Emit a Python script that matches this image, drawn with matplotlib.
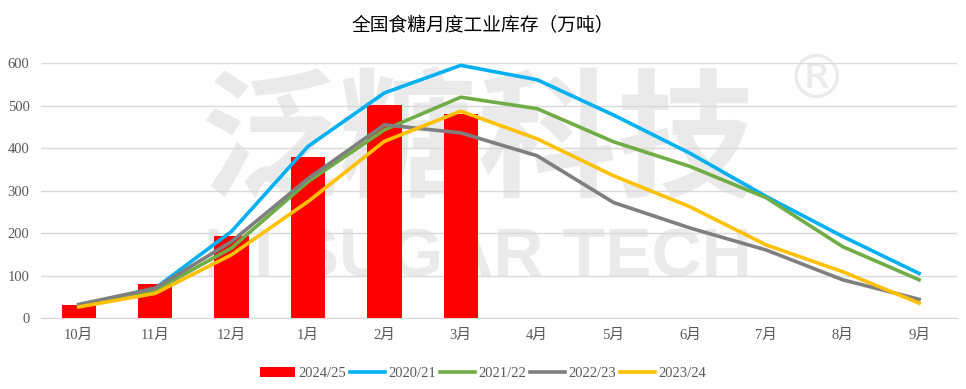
import matplotlib.pyplot as plt
import numpy as np

plt.rcParams['font.family'] = ['Liberation Serif', 'Noto Sans CJK SC', 'DejaVu Sans']

months = ['10月', '11月', '12月', '1月', '2月', '3月', '4月', '5月', '6月', '7月', '8月', '9月']
bar_2024_25 = [31, 79, 193, 379, 501, 480]
line_2020_21 = [30, 70, 204, 404, 530, 595, 561, 478, 388, 286, 192, 105]
line_2021_22 = [28, 65, 165, 321, 443, 520, 493, 415, 357, 283, 168, 90]
line_2022_23 = [32, 70, 180, 328, 455, 436, 382, 272, 212, 160, 90, 44]
line_2023_24 = [26, 58, 149, 274, 416, 487, 422, 335, 262, 172, 109, 35]
yticks = [0, 100, 200, 300, 400, 500, 600]

fig = plt.figure(figsize=(9.66, 3.89), dpi=100)
ax = fig.add_axes([0.042, 0.1825, 0.949, 0.655])
ax.set_zorder(2)
ax.patch.set_alpha(0)

x = np.arange(len(months))

# watermark (behind the chart)
fig.text(0.495, 0.625, '泛糖科技', fontsize=100, color='#EAEAEA', ha='center', va='center',
         family='Noto Sans CJK SC', fontweight='bold', zorder=-1)
fig.text(0.845, 0.79, '®', fontsize=44, color='#EAEAEA', ha='center', va='center',
         family='DejaVu Sans', zorder=-1)
fig.text(0.495, 0.335, 'HI SUGAR TECH', fontsize=50, color='#EAEAEA', ha='center', va='center',
         family='Liberation Sans', fontweight='bold', zorder=-1)

ax.bar(x[:len(bar_2024_25)], bar_2024_25, width=0.45, color='#FF0000', label='2024/25', zorder=2)
ax.plot(x, line_2020_21, color='#00B0F0', lw=2.6, label='2020/21', zorder=3)
ax.plot(x, line_2021_22, color='#70AD47', lw=2.6, label='2021/22', zorder=3)
ax.plot(x, line_2022_23, color='#7F7F7F', lw=2.6, label='2022/23', zorder=3)
ax.plot(x, line_2023_24, color='#FFC000', lw=2.6, label='2023/24', zorder=3)

ax.set_ylim(0, 600)
ax.set_xlim(-0.5, len(months) - 0.5)
ax.set_yticks(yticks)
ax.set_xticks(x)
ax.set_xticklabels(months)
ax.tick_params(axis='both', length=0, labelsize=10.5, colors='#595959', pad=8)
ax.grid(True, axis='y', color='#D9D9D9', lw=1, zorder=0)
for s in ['top', 'right', 'left']:
    ax.spines[s].set_visible(False)
ax.spines['bottom'].set_color('#D9D9D9')

fig.text(0.5, 0.935, '全国食糖月度工业库存（万吨）', ha='center', va='center', fontsize=13.5,
         color='#000000', family='Noto Sans CJK SC')

handles, labels = ax.get_legend_handles_labels()
order = [labels.index(l) for l in ['2024/25', '2020/21', '2021/22', '2022/23', '2023/24']]
leg = fig.legend([handles[i] for i in order], [labels[i] for i in order],
                 loc='center', bbox_to_anchor=(0.5, 0.04), ncol=5, frameon=False,
                 fontsize=10.5, handlelength=2.4, handletextpad=0.2, columnspacing=0.3)
for t in leg.get_texts():
    t.set_color('#595959')

fig.savefig('out.png', dpi=100)
